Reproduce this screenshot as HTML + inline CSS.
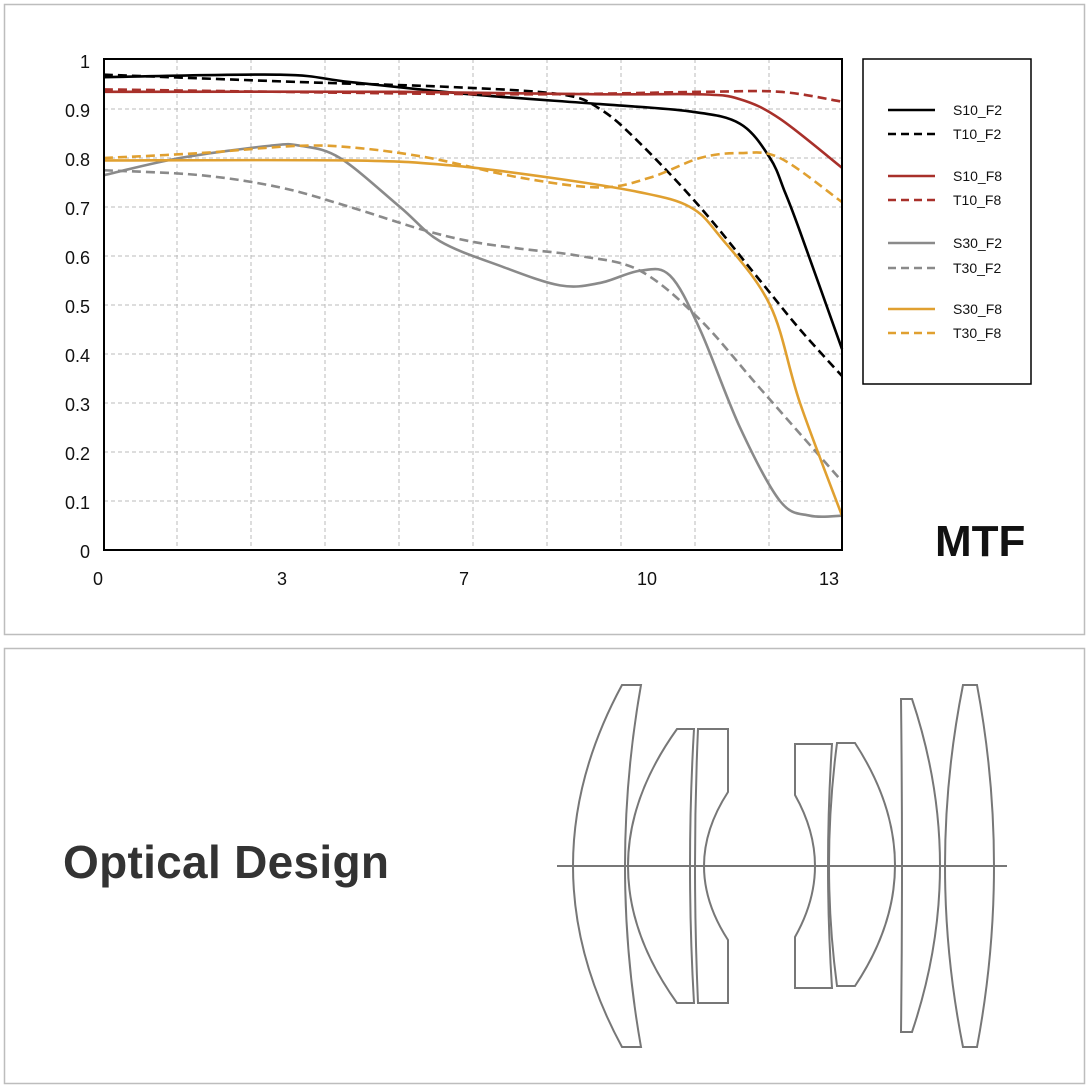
<!DOCTYPE html>
<html><head><meta charset="utf-8"><style>
html,body{margin:0;padding:0;background:#fff;}
svg{display:block;font-family:"Liberation Sans",sans-serif;}
</style></head><body>
<svg id="s" width="1089" height="1088" viewBox="0 0 1089 1088" xmlns="http://www.w3.org/2000/svg">
<rect x="4.5" y="4.5" width="1080" height="630" fill="#fff" stroke="#bdbdbd" stroke-width="1.5"/>
<rect x="4.5" y="648.5" width="1080" height="435" fill="#fff" stroke="#bdbdbd" stroke-width="1.5"/>
<g id="grid" stroke="#bbb" stroke-width="1" stroke-dasharray="4,3"></g>
<g id="curves" fill="none" stroke-width="2.6"></g>
<rect x="104" y="59" width="738" height="491" fill="none" stroke="#000" stroke-width="2"/>
<g font-size="18" fill="#111" text-anchor="end">
<text x="90" y="68">1</text><text x="90" y="117">0.9</text><text x="90" y="166">0.8</text>
<text x="90" y="215">0.7</text><text x="90" y="264">0.6</text><text x="90" y="313">0.5</text>
<text x="90" y="362">0.4</text><text x="90" y="411">0.3</text><text x="90" y="460">0.2</text>
<text x="90" y="509">0.1</text><text x="90" y="558">0</text>
</g>
<g font-size="18" fill="#111" text-anchor="middle">
<text x="98" y="585">0</text><text x="282" y="585">3</text><text x="464" y="585">7</text>
<text x="647" y="585">10</text><text x="829" y="585">13</text>
</g>
<rect x="863" y="59" width="168" height="325" fill="#fff" stroke="#000" stroke-width="1.5"/>
<g id="leg" font-size="14" fill="#111"></g>
<text x="935" y="556" font-size="44" font-weight="bold" fill="#111">MTF</text>
<text x="63" y="878" font-size="46" font-weight="bold" fill="#333" letter-spacing="0.3">Optical Design</text>
<g fill="none" stroke="#777" stroke-width="2">
<line x1="557" y1="866" x2="1007" y2="866"/>
<path d="M622,685 L641,685 Q609,866 641,1047 L622,1047 Q524,866 622,685Z"/>
<path d="M677,729 L694,729 Q686,866 694,1003 L677,1003 Q579,866 677,729Z"/>
<path d="M698,729 L728,729 L728,792 Q680,866 728,940 L728,1003 L698,1003 Q692,866 698,729Z"/>
<path d="M795,744 L832,744 Q824,866 832,988 L795,988 L795,937 Q835,866 795,795Z"/>
<path d="M837,743 L855,743 Q935,866 855,986 L837,986 Q821,866 837,743Z"/>
<path d="M901,699 L912,699 Q968,866 912,1032 L901,1032 Q903,866 901,699Z"/>
<path d="M963,685 L977,685 Q1011,866 977,1047 L963,1047 Q927,866 963,685Z"/>
</g>
</svg>
<script>
var NS="http://www.w3.org/2000/svg";
function el(t,a,p){var e=document.createElementNS(NS,t);for(var k in a)e.setAttribute(k,a[k]);p.appendChild(e);return e;}
var g=document.getElementById('grid');
for(var i=1;i<10;i++){var y=550-49*i;el('line',{x1:104,x2:842,y1:y,y2:y},g);}
[177,251,325,399,473,547,621,695,769].forEach(function(x){el('line',{x1:x,x2:x,y1:59,y2:550},g);});
function Y(v){return 550-490*v;}
function path(pts){var p=pts.map(function(a){return [a[0],Y(a[1])];});
var d="M"+p[0][0]+","+p[0][1];
for(var i=0;i<p.length-1;i++){var p0=p[i-1]||p[i],p1=p[i],p2=p[i+1],p3=p[i+2]||p[i+1];
d+=" C"+(p1[0]+(p2[0]-p0[0])/6)+","+(p1[1]+(p2[1]-p0[1])/6)+" "+(p2[0]-(p3[0]-p1[0])/6)+","+(p2[1]-(p3[1]-p1[1])/6)+" "+p2[0]+","+p2[1];}
return d;}
var K="#000",R="#a8302a",G="#8a8a8a",O="#e0a030";
var S=[
[K,0,[[104,.965],[280,.97],[350,.955],[470,.93],[600,.91],[690,.895],[740,.87],[770,.80],[785,.73],[800,.65],[842,.41]]],
[K,1,[[104,.97],[300,.955],[450,.945],[560,.93],[600,.9],[640,.83],[700,.7],[760,.55],[800,.45],[842,.355]]],
[R,0,[[104,.935],[400,.935],[600,.93],[700,.93],[740,.92],[780,.88],[842,.78]]],
[R,1,[[104,.94],[500,.93],[700,.935],[780,.935],[842,.915]]],
[G,0,[[104,.765],[180,.8],[270,.825],[300,.825],[340,.8],[400,.7],[440,.63],[500,.58],[560,.54],[600,.545],[640,.57],[670,.56],[700,.45],[740,.25],[780,.1],[810,.07],[842,.07]]],
[G,1,[[104,.775],[200,.765],[280,.74],[350,.7],[420,.655],[470,.63],[520,.615],[580,.6],[640,.57],[700,.47],[760,.33],[842,.14]]],
[O,0,[[104,.795],[350,.795],[450,.785],[550,.76],[640,.73],[690,.70],[720,.64],[770,.5],[800,.3],[842,.07]]],
[O,1,[[104,.80],[200,.81],[300,.825],[360,.82],[430,.80],[520,.76],[600,.74],[650,.76],[700,.80],[740,.81],[780,.80],[842,.71]]]];
var c=document.getElementById('curves');
S.forEach(function(s){var a={d:path(s[2]),stroke:s[0]};if(s[1])a['stroke-dasharray']='9,5';el('path',a,c);});
var L=document.getElementById('leg');
var names=["S10_F2","T10_F2","S10_F8","T10_F8","S30_F2","T30_F2","S30_F8","T30_F8"];
var ys=[110,134,176,200,243,268,309,333];
names.forEach(function(n,i){var s=S[i];var a={x1:888,x2:935,y1:ys[i],y2:ys[i],stroke:s[0],'stroke-width':2.6};if(s[1])a['stroke-dasharray']='8,5';el('line',a,L);
var t=el('text',{x:953,y:ys[i]+5},L);t.textContent=n;});
</script>
</body></html>
